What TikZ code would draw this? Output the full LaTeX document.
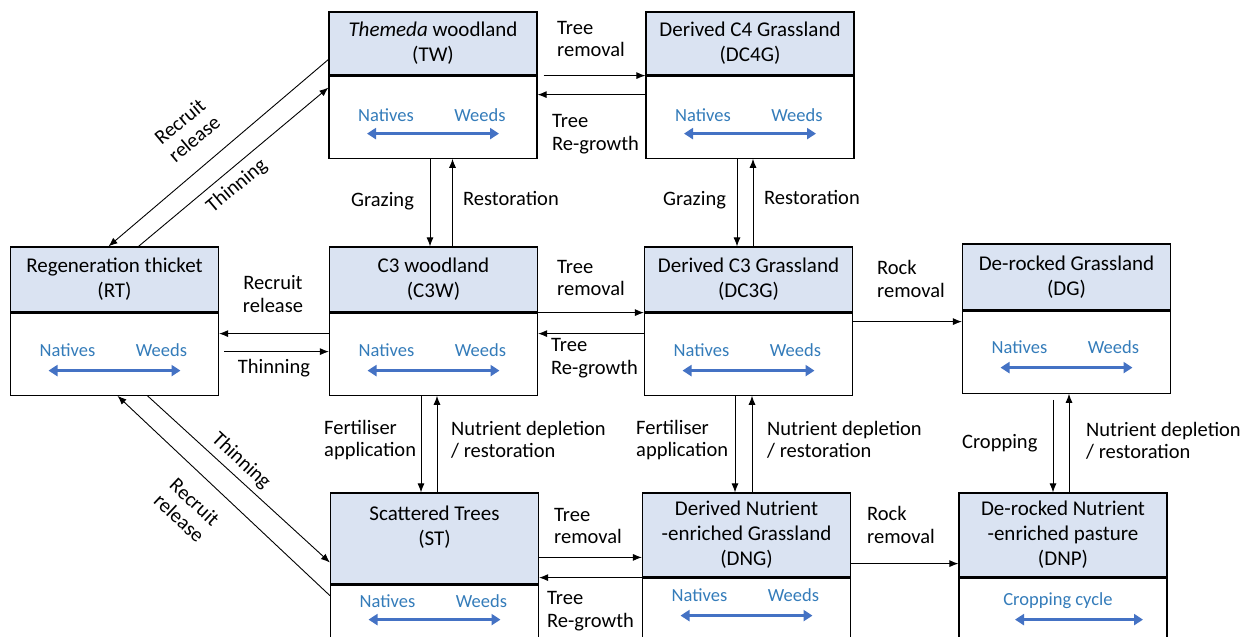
\documentclass[tikz,border=0pt]{standalone}
\usepackage{fontspec}
\setmainfont{Carlito}
\usepackage{xcolor}
\usepackage{tikz}
\usetikzlibrary{calc}
\usetikzlibrary{arrows.meta}
\usetikzlibrary{positioning}
\definecolor{headblue}{RGB}{218,227,242}
\definecolor{sppblue}{RGB}{52,124,186}
\definecolor{arrowblue}{RGB}{68,114,196}
\newcommand{\statefont}{\fontsize{21}{25}\selectfont}
\newcommand{\lblfont}{\fontsize{20.5}{22.5}\selectfont}
\newcommand{\sppfont}{\fontsize{18.5}{20}\selectfont}
\tikzset{>={Latex[length=9pt,width=7pt]}}
\tikzstyle{head} = [rectangle, draw=black, line width=1.2pt, fill=headblue, minimum width=208pt, inner sep=0pt, align=center, font=\statefont]
\tikzstyle{body} = [rectangle, draw=black, line width=1.2pt, minimum width=208pt, minimum height=82pt, anchor=north]
\tikzstyle{spp} = [text=sppblue, font=\sppfont, inner sep=0pt]
\tikzstyle{spparrow} = [{Triangle[width=11pt,length=9pt]}-{Triangle[width=11pt,length=9pt]}, line width=3pt, draw=arrowblue]
\tikzstyle{lbl} = [font=\lblfont, align=left, inner sep=0pt]
\tikzstyle{trans} = [->, line width=0.9pt]
% state box: name, centre x, top y, header height, title
\newcommand{\statebox}[5]{%
  \node [head, minimum height=#4pt] (#1h) at (#2,{#3+#4/2}) {#5};
  \node [body] (#1) at (#1h.south) {};
}
% natives / weeds scale: name, text offset, arrow offset
\newcommand{\species}[3]{%
  \node [spp] (#1nat) at ($(#1h.south)+(-47,#2)$) {Natives};
  \node [spp] (#1wee) at ($(#1h.south)+(47,#2)$) {Weeds};
  \coordinate (#1l) at ($(#1h.south)+(-66,#3)$);
  \coordinate (#1r) at ($(#1h.south)+(66,#3)$);
  \draw [spparrow] (#1l) -- (#1r);
}
\begin{document}
\begin{tikzpicture}[x=1pt, y=-1pt]
\clip (0,0) rectangle (1250,637);
\fill [white] (0,0) rectangle (1250,637);
% states
\statebox{TW}{433}{12}{63}{\textit{Themeda} woodland\\(TW)}
\statebox{DCF}{750}{12}{63}{Derived C4 Grassland\\(DC4G)}
\statebox{RT}{114.5}{247}{65}{Regeneration thicket\\(RT)}
\statebox{CW}{433.5}{247}{65}{C3 woodland\\(C3W)}
\statebox{DCT}{748.5}{247}{65}{Derived C3 Grassland\\(DC3G)}
\statebox{DG}{1066.5}{244}{66}{De-rocked Grassland\\(DG)}
\statebox{ST}{434.5}{493}{91}{Scattered Trees\\(ST)\\\mbox{}}
\statebox{DNG}{746.5}{493}{84}{Derived Nutrient\\-enriched Grassland\\(DNG)}
\statebox{DNP}{1063}{493}{84}{De-rocked Nutrient\\-enriched pasture\\(DNP)}
\species{TW}{40}{58}
\species{DCF}{40}{58}
\species{RT}{38}{58}
\species{CW}{38}{58}
\species{DCT}{38}{58}
\species{DG}{37}{57}
\species{ST}{17}{35}
\species{DNG}{18}{38}
\node [spp] (DNPcc) at ($(DNPh.south)+(-5,23)$) {Cropping cycle};
\coordinate (DNPl) at ($(DNPh.south)+(-48,42)$);
\coordinate (DNPr) at ($(DNPh.south)+(80,42)$);
\draw [spparrow] (DNPl) -- (DNPr);
% top row
\draw [trans] ([xshift=6pt]TWh.south east) -- (DCFh.south west);
\draw [trans] ([yshift=-19pt]DCF.north west) -- ([yshift=-19pt]TW.north east);
\node [lbl, anchor=west] (trA) at (557,39) {Tree\\removal};
\node [lbl, anchor=west] (tgA) at (552,134) {Tree\\Re-growth};
% middle row
\draw [trans] (CWh.south east) -- (DCTh.south west);
\draw [trans] ([yshift=-21pt]DCT.north west) -- ([yshift=-21pt]CW.north east);
\draw [trans] ([yshift=-21pt]CW.north west) -- ([yshift=-21pt]RT.north east);
\draw [trans] ([xshift=5pt,yshift=-39pt]RT.north east) -- ([yshift=-39pt]CW.north west);
\coordinate (rkA) at ([yshift=-9pt]DCT.north east);
\draw [trans] (rkA) -- (rkA -| DG.west);
\node [lbl, align=center] (rrB) at (273,294) {Recruit\\release};
\node [lbl] (thB) at (274,368) {Thinning};
\node [lbl, anchor=west] (trB) at (557,278) {Tree\\removal};
\node [lbl, anchor=west] (tgB) at (551,358) {Tree\\Re-growth};
\node [lbl, anchor=west] (rmB) at (877,279) {Rock\\removal};
% bottom row
\coordinate (trC0) at ([yshift=-65pt]STh.north east);
\draw [trans] (trC0) -- (trC0 -| DNGh.west);
\draw [trans] (DNGh.south west) -- (DNGh.south west -| STh.east);
\coordinate (rkC) at ([yshift=14pt]DNGh.south east);
\draw [trans] (rkC) -- (rkC -| DNPh.west);
\node [lbl, anchor=west] (trC) at (554,526) {Tree\\removal};
\node [lbl, anchor=west] (tgC) at (547,611) {Tree\\Re-growth};
\node [lbl, anchor=west] (rmC) at (867,525) {Rock\\removal};
% verticals
\coordinate (gzA) at ([xshift=-3pt]TW.south);
\draw [trans] (gzA) -- (gzA |- CWh.north);
\coordinate (rsA) at ([xshift=19pt]CWh.north);
\draw [trans] (rsA) -- (rsA |- TW.south);
\coordinate (gzB) at ([xshift=-13pt]DCF.south);
\draw [trans] (gzB) -- (gzB |- DCTh.north);
\coordinate (rsB) at ([xshift=4.5pt]DCTh.north);
\draw [trans] (rsB) -- (rsB |- DCF.south);
\coordinate (feA) at ([xshift=-12.5pt]CW.south);
\draw [trans] (feA) -- (feA |- STh.north);
\coordinate (ndA) at ([xshift=2.5pt]STh.north);
\draw [trans] (ndA) -- (ndA |- CW.south);
\coordinate (feB) at ([xshift=-13.5pt]DCT.south);
\draw [trans] (feB) -- (feB |- DNGh.north);
\coordinate (ndB) at ([xshift=5.5pt]DNGh.north);
\draw [trans] (ndB) -- (ndB |- DCT.south);
\coordinate (crA) at ([xshift=-13.5pt,yshift=-6pt]DG.south);
\draw [trans] (crA) -- (crA |- DNPh.north);
\coordinate (ndC) at ([xshift=6pt]DNPh.north);
\draw [trans] (ndC) -- (ndC |- DG.south);
\node [lbl, anchor=west] (gzlA) at (351,201) {Grazing};
\node [lbl, anchor=west] (rslA) at (463,198) {Restoration};
\node [lbl, anchor=west] (gzlB) at (663,200) {Grazing};
\node [lbl, anchor=west] (rslB) at (764,197) {Restoration};
\node [lbl, anchor=west] (felA) at (324,440) {Fertiliser\\application};
\node [lbl, anchor=west] (ndlA) at (451,440) {Nutrient depletion\\/ restoration};
\node [lbl, anchor=west] (felB) at (636,440) {Fertiliser\\application};
\node [lbl, anchor=west] (ndlB) at (767,440) {Nutrient depletion\\/ restoration};
\node [lbl, anchor=west] (crl) at (962,443) {Cropping};
\node [lbl, anchor=west] (ndlC) at (1086,441) {Nutrient depletion\\/ restoration};
% diagonals
\draw [trans] ([yshift=-16pt]TWh.west) -- ([xshift=-6pt]RTh.north);
\draw [trans] ([xshift=24pt]RTh.north) -- ([yshift=-12pt]TW.north west);
\draw [trans] ([xshift=33pt]RT.south) -- ([yshift=-24pt]STh.west);
\draw [trans] ([yshift=-11pt]ST.north west) -- ([xshift=3pt]RT.south);
\node [lbl, align=center, rotate=40] (rrU) at (187,130) {Recruit\\release};
\node [lbl, rotate=40] (thU) at (237,186) {Thinning};
\node [lbl, rotate=-43] (thL) at (241,461) {Thinning};
\node [lbl, align=center, rotate=-43] (rrL) at (187,510) {Recruit\\release};
\end{tikzpicture}
\end{document}
